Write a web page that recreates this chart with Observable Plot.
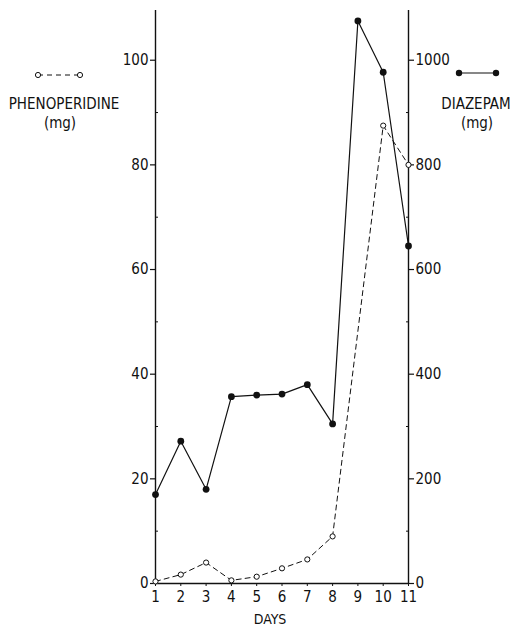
<!DOCTYPE html>
<html>
<head>
<meta charset="utf-8">
<script src="https://cdn.jsdelivr.net/npm/d3@7"></script>
<script src="https://cdn.jsdelivr.net/npm/@observablehq/plot@0.6"></script>
<style>
  html, body { margin: 0; padding: 0; background: #fff; }
  #wrap { position: relative; width: 512px; height: 627px; font-family: "Liberation Sans Narrow", "DejaVu Sans Condensed", "Arial Narrow", sans-serif; color: #111; }
  #wrap svg.plot { position: absolute; left: 0; top: 0; }
  .leg { position: absolute; font-size: 15px; line-height: 16px; text-align: center; white-space: nowrap; }
  .sym { position: absolute; }
</style>
</head>
<body>
<div id="wrap">
  <svg class="sym" style="left:33px;top:70px" width="52" height="10">
    <line x1="5" y1="5" x2="47" y2="5" stroke="#111" stroke-width="1" stroke-dasharray="5,4"></line>
    <circle cx="5" cy="5" r="2.6" fill="#fff" stroke="#111" stroke-width="1"></circle>
    <circle cx="47" cy="5" r="2.6" fill="#fff" stroke="#111" stroke-width="1"></circle>
  </svg>
  <div class="leg" style="left:0px;top:96px;width:128px">PHENOPERIDINE</div>
  <div class="leg" style="left:0px;top:115px;width:120px">(mg)</div>

  <svg class="sym" style="left:454px;top:68px" width="48" height="10">
    <line x1="5" y1="5" x2="42" y2="5" stroke="#111" stroke-width="1.2"></line>
    <circle cx="5" cy="5" r="3.2" fill="#111"></circle>
    <circle cx="42" cy="5" r="3.2" fill="#111"></circle>
  </svg>
  <div class="leg" style="left:436px;top:96px;width:80px">DIAZEPAM</div>
  <div class="leg" style="left:437px;top:115px;width:80px">(mg)</div>
</div>
<script>
// Days
const days = [1, 2, 3, 4, 5, 6, 7, 8, 9, 10, 11];
// Diazepam (mg), right axis
const diazepam = [170, 272, 180, 357, 360, 362, 380, 305, 1075, 977, 645];
// Phenoperidine (mg), left axis (no marker on day 9)
const phenoDays = [1, 2, 3, 4, 5, 6, 7, 8, 10, 11];
const phenoperidine = [0.4, 1.7, 4.0, 0.6, 1.3, 2.9, 4.6, 9.0, 87.5, 80];
// Tick labels
const leftTicks = [0, 20, 40, 60, 80, 100];
const leftMinor = [10, 30, 50, 70, 90];
const rightTicks = [0, 200, 400, 600, 800, 1000];
const rightMinor = [100, 300, 500, 700, 900];
const ratio = 10; // right axis units per left axis unit

const diaData = days.map((d, i) => ({day: d, v: diazepam[i] / ratio}));
const phenData = phenoDays.map((d, i) => ({day: d, v: phenoperidine[i]}));

const ink = "#111";
const font = '"Liberation Sans Narrow", "DejaVu Sans Condensed", "Arial Narrow", sans-serif';
const chart = Plot.plot({
  width: 512,
  height: 627,
  marginLeft: 155,
  marginRight: 104,
  marginTop: 10,
  marginBottom: 44,
  style: {fontFamily: font, fontSize: "15px", color: ink, background: "#fff"},
  x: {type: "linear", domain: [1, 11]},
  y: {type: "linear", domain: [0, 109.5]},
  marks: [
    Plot.axisY(leftTicks, {anchor: "left", tickSize: 5, tickPadding: 2, label: null, stroke: ink, strokeWidth: 1.2}),
    Plot.axisY(leftMinor, {anchor: "left", tickSize: -3, tickFormat: () => "", label: null, stroke: ink, strokeWidth: 1}),
    Plot.axisY(rightTicks.map(d => d / ratio), {anchor: "right", tickSize: 5, tickPadding: 2, label: null, tickFormat: d => String(Math.round(d * ratio)), stroke: ink, strokeWidth: 1.2}),
    Plot.axisY(rightMinor.map(d => d / ratio), {anchor: "right", tickSize: -3, tickFormat: () => "", label: null, stroke: ink, strokeWidth: 1}),
    Plot.axisX(days, {anchor: "bottom", tickSize: 3, tickPadding: 5, label: null, stroke: ink, fontSize: 15}),
    Plot.ruleX([1, 11], {stroke: ink, strokeWidth: 1.4}),
    Plot.ruleY([0], {stroke: ink, strokeWidth: 1.4}),
    Plot.text(["DAYS"], {frameAnchor: "bottom", lineAnchor: "bottom", text: d => d, dx: -12, dy: 40, fill: ink, fontSize: 14}),
    Plot.line(phenData, {x: "day", y: "v", stroke: ink, strokeWidth: 1, strokeDasharray: "5,4"}),
    Plot.line(diaData, {x: "day", y: "v", stroke: ink, strokeWidth: 1.2}),
    Plot.dot(phenData, {x: "day", y: "v", r: 2.6, fill: "#fff", stroke: ink, strokeWidth: 1}),
    Plot.dot(diaData, {x: "day", y: "v", r: 3.4, fill: ink, stroke: "none"})
  ]
});
chart.classList.add("plot");
document.getElementById("wrap").prepend(chart);
</script>
</body>
</html>
